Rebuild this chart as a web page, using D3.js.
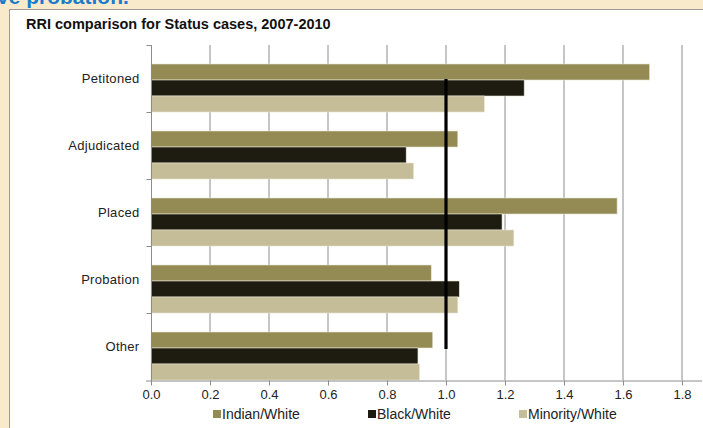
<!DOCTYPE html>
<html>
<head>
<meta charset="utf-8">
<script src="https://cdn.jsdelivr.net/npm/d3@7"></script>
<style>
body { margin:0; background:#f9eacb; overflow:hidden; }
svg { display:block; font-family:"Liberation Sans", Arial, sans-serif; }
</style>
</head>
<body>
<div id="chart"></div>
<script>
var categories = ["Petitoned", "Adjudicated", "Placed", "Probation", "Other"];
var seriesNames = ["Indian/White", "Black/White", "Minority/White"];
var indianWhite = [1.69, 1.04, 1.58, 0.95, 0.955];
var blackWhite = [1.265, 0.865, 1.19, 1.045, 0.905];
var minorityWhite = [1.13, 0.89, 1.23, 1.04, 0.91];
var xTicks = [0, 0.2, 0.4, 0.6, 0.8, 1.0, 1.2, 1.4, 1.6, 1.8];
var refValue = 1.0;
var colors = ["#948a54", "#1e1c11", "#c4bd97"];

var series = [indianWhite, blackWhite, minorityWhite];

var width = 703, height = 428;
var svg = d3.select("#chart").append("svg")
    .attr("width", width)
    .attr("height", height);

// cut heading from the page above
svg.append("text")
    .attr("x", -3).attr("y", 4)
    .style("font-size", "21px").style("font-weight", "bold")
    .style("fill", "#1b7ccc")
    .text("ve probation.");

// white chart box
svg.append("rect")
    .attr("x", 9.5).attr("y", 9.5)
    .attr("width", 720).attr("height", 440)
    .style("fill", "#fff").style("stroke", "#9a9a9a");

svg.append("text")
    .attr("x", 26).attr("y", 29)
    .style("font-size", "14.5px").style("font-weight", "bold")
    .style("fill", "#111")
    .text("RRI comparison for Status cases, 2007-2010");

var x = d3.scaleLinear().domain([0, 1.8]).range([151, 682]);
var y = d3.scaleBand().domain(categories).range([45, 380]);
var barH = 16, barTop = 19;

// gridlines
svg.append("g").selectAll("line")
    .data(xTicks.slice(1))
    .enter().append("line")
    .attr("x1", function(d){ return x(d); })
    .attr("x2", function(d){ return x(d); })
    .attr("y1", 45).attr("y2", 380)
    .style("stroke", "#8c8c8c").style("stroke-width", 1);

// bars
series.forEach(function(vals, s){
    svg.append("g").selectAll("rect")
        .data(vals)
        .enter().append("rect")
        .attr("x", x(0))
        .attr("y", function(d, i){ return y(categories[i]) + barTop + s * barH; })
        .attr("width", function(d){ return x(d) - x(0); })
        .attr("height", barH)
        .style("fill", colors[s])
        .style("stroke", "#e8e4d4").style("stroke-width", 0.6);
});

// reference line at 1.0
svg.append("line")
    .attr("x1", x(refValue)).attr("x2", x(refValue))
    .attr("y1", y(categories[0]) + barTop + barH - 1)
    .attr("y2", y(categories[4]) + barTop + barH + 1)
    .style("stroke", "#000").style("stroke-width", 3.2);

// x axis
var xAxis = svg.append("g")
    .attr("transform", "translate(0,380.5)")
    .call(d3.axisBottom(x).tickValues(xTicks).tickSize(5).tickPadding(4)
        .tickFormat(d3.format(".1f")));
xAxis.select(".domain").style("stroke", "#8c8c8c").attr("d", "M" + (x(0) - 5) + ",0.5H" + (x(1.8) + 20));
xAxis.selectAll(".tick line").style("stroke", "#8c8c8c");
xAxis.selectAll("text").style("font-size", "13px").style("fill", "#222")
    .style("font-family", "'Liberation Sans', Arial, sans-serif");

// y axis
var yAxisG = svg.append("g").attr("transform", "translate(151.5,0)");
yAxisG.append("line")
    .attr("y1", 45).attr("y2", 381)
    .style("stroke", "#8c8c8c");
yAxisG.selectAll("line.tk")
    .data(categories)
    .enter().append("line").attr("class", "tk")
    .attr("x1", -5).attr("x2", 0)
    .attr("y1", function(d){ return Math.round(y(d)) + 0.5; })
    .attr("y2", function(d){ return Math.round(y(d)) + 0.5; })
    .style("stroke", "#8c8c8c");
yAxisG.selectAll("text")
    .data(categories)
    .enter().append("text")
    .attr("x", -12)
    .attr("y", function(d){ return y(d) + y.bandwidth() / 2 + 4; })
    .style("text-anchor", "end")
    .style("font-size", "13px").style("fill", "#222")
    .style("letter-spacing", "0.3px")
    .text(function(d){ return d; });

// legend
var legendX = [213, 368, 519];
var legend = svg.append("g").selectAll("g")
    .data(seriesNames)
    .enter().append("g")
    .attr("transform", function(d, i){ return "translate(" + legendX[i] + ",0)"; });
legend.append("rect")
    .attr("x", 0).attr("y", 410)
    .attr("width", 8).attr("height", 8)
    .style("fill", function(d, i){ return colors[i]; });
legend.append("text")
    .attr("x", 9).attr("y", 419)
    .style("font-size", "14px").style("fill", "#222")
    .text(function(d){ return d; });
</script>
</body>
</html>
